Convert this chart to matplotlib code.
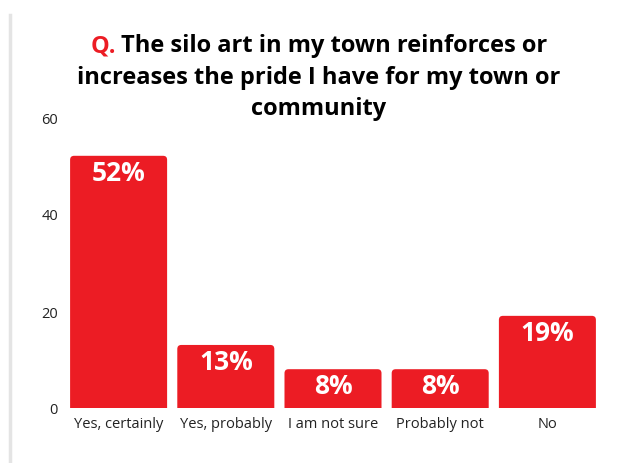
import matplotlib
matplotlib.use("Agg")
import matplotlib.pyplot as plt
from matplotlib.patches import FancyBboxPatch
from matplotlib.lines import Line2D

categories = ["Yes, certainly", "Yes, probably", "I am not sure", "Probably not", "No"]
values = [52, 13, 8, 8, 19]
labels = ["52%", "13%", "8%", "8%", "19%"]
yticks = [0, 20, 40, 60]

RED = "#EC1C24"
plt.rcParams['font.family'] = ['Open Sans', 'DejaVu Sans']

W, H = 625, 464
fig = plt.figure(figsize=(W/100, H/100), dpi=100)
ax = fig.add_axes([65/W, (H-409)/H, (601-65)/W, (409-118)/H])

xs = list(range(len(categories)))
bars = ax.bar(xs, values, width=0.905, color=RED, linewidth=0)

# rounded top corners
px_x = 5 / (601 - 65)
px_y = 60 / (409 - 118)
r = 4 * px_x
aspect = px_y / px_x
for b in bars:
    b.set_visible(False)
    x0, w, h = b.get_x(), b.get_width(), b.get_height()
    p = FancyBboxPatch((x0, -5), w, h + 5,
                       boxstyle=f"round,pad=0,rounding_size={r}",
                       mutation_aspect=aspect, facecolor=RED,
                       edgecolor="none", clip_on=True)
    ax.add_patch(p)

for x, v, lab in zip(xs, values, labels):
    ax.annotate(lab, (x, v), xytext=(0, -2), textcoords="offset points",
                ha="center", va="top", color="white", fontsize=19,
                fontweight="bold")

ax.set_xlim(-0.5, 4.5)
ax.set_ylim(0, 60)
ax.set_yticks(yticks)
ax.set_xticks(xs)
ax.set_xticklabels(categories)
ax.tick_params(length=0, labelsize=10.5, colors="#222222", pad=6)
ax.tick_params(axis="y", pad=5)
for s in ax.spines.values():
    s.set_visible(False)

# title
TS = 17
CX = 319
renderer = fig.canvas.get_renderer()
q = fig.text(0, 0, "Q. ", fontsize=TS, fontweight="bold", color=RED)
rest = fig.text(0, 0, "The silo art in my town reinforces or", fontsize=TS,
                fontweight="bold", color="black")
wq = q.get_window_extent(renderer).width
wr = rest.get_window_extent(renderer).width
x0 = CX - (wq + wr) / 2
y1 = 1 - 46/H
q.set_position((x0/W, y1)); q.set_va("center")
rest.set_position(((x0 + wq)/W, y1)); rest.set_va("center")
fig.text(CX/W, 1 - 78/H, "increases the pride I have for my town or",
         ha="center", va="center", fontsize=TS, fontweight="bold", color="black")
fig.text(CX/W, 1 - 109/H, "community",
         ha="center", va="center", fontsize=TS, fontweight="bold", color="black")

fig.add_artist(Line2D([10/W, 10/W], [0, 1 - 16/H], transform=fig.transFigure,
                      color="#e4e4e4", linewidth=2.5))

fig.savefig("out.png", dpi=100)
